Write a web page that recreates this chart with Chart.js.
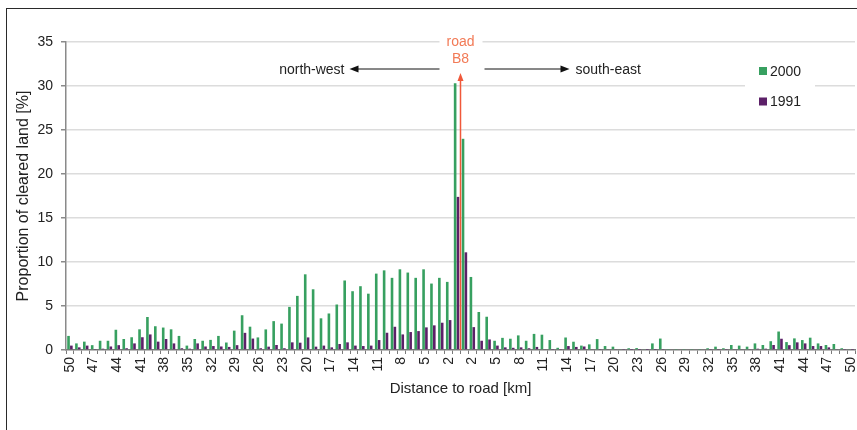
<!DOCTYPE html>
<html><head><meta charset="utf-8">
<script src="https://cdn.jsdelivr.net/npm/chart.js@4.4.0/dist/chart.umd.min.js"></script>
<style>
html,body{margin:0;padding:0;background:#fff;}
#wrap{position:relative;width:857px;height:430px;overflow:hidden;}
canvas{position:absolute;left:0;top:0;}
#frame{position:absolute;left:6px;top:8px;width:900px;height:500px;border-left:1.5px solid #2a2a2a;border-top:1.5px solid #2a2a2a;pointer-events:none;}
</style></head><body>
<div id="wrap"><canvas id="c" width="857" height="430"></canvas><div id="frame"></div></div>
<script>
// Distance categories: north-west side (50 -> 1 km), then south-east side (1 -> 50 km)
const categories = ['50','49','48','47','46','45','44','43','42','41','40','39','38','37','36','35','34','33','32','31','30','29','28','27','26','25','24','23','22','21','20','19','18','17','16','15','14','13','12','11','10','9','8','7','6','5','4','3','2','1',
  '1','2','3','4','5','6','7','8','9','10','11','12','13','14','15','16','17','18','19','20','21','22','23','24','25','26','27','28','29','30','31','32','33','34','35','36','37','38','39','40','41','42','43','44','45','46','47','48','49','50'];

const cleared2000 = [1.6,0.75,0.95,0.55,1.05,1.05,2.3,1.25,1.45,2.35,
  3.75,2.7,2.55,2.35,1.6,0.5,1.25,1.05,1.15,1.6,
  0.85,2.2,3.95,2.65,1.43,2.34,3.28,3.0,4.9,6.15,
  8.6,6.9,3.6,4.15,5.17,7.9,6.68,7.25,6.4,8.68,
  9.05,8.2,9.17,8.8,8.2,9.17,7.55,8.2,7.74,30.3,
  24.0,8.3,4.32,3.78,1.05,1.38,1.28,1.66,1.05,1.83,
  1.74,1.13,0.25,1.42,0.94,0.5,0.64,1.24,0.45,0.38,
  0.1,0.2,0.22,0.1,0.75,1.3,0.05,0.05,0.05,0.05,
  0.05,0.2,0.38,0.2,0.57,0.5,0.38,0.75,0.57,1.0,
  2.1,0.9,1.32,1.13,1.4,0.75,0.57,0.68,0.2,0.1];

const cleared1991 = [0.5,0.3,0.5,0.05,0.15,0.4,0.55,0.2,0.75,1.45,
  1.77,0.95,1.25,0.75,0.2,0.15,0.75,0.4,0.45,0.4,
  0.35,0.55,1.95,1.3,0.2,0.38,0.57,0.2,0.87,0.83,
  1.43,0.38,0.5,0.3,0.68,0.87,0.5,0.45,0.5,1.13,
  1.96,2.64,1.77,2.04,2.15,2.57,2.8,3.1,3.4,17.4,
  11.1,2.6,1.05,1.2,0.5,0.3,0.25,0.3,0.2,0.35,
  0.1,0.05,0.05,0.45,0.35,0.4,0.1,0.05,0.1,0.1,
  0.05,0.03,0.03,0.03,0.03,0.05,0,0,0,0,
  0,0.05,0.05,0.05,0.1,0.1,0.1,0.15,0.15,0.57,
  1.28,0.55,0.87,0.75,0.45,0.45,0.3,0.1,0.05,0.03];

const seriesNames = ['2000','1991'];
const yMax = 35, yStep = 5;
const roadLabel = ['road','B8'];
const directionLabels = ['north-west','south-east'];

const GREEN = '#37a060', PURPLE = '#5c2068', ROAD = '#f0583a', ROADTXT = '#f27a56';
const FONT = '"Liberation Sans", Arial, sans-serif';

const annot = {
  id: 'annot',
  afterDatasetsDraw(chart) {
    const {ctx, scales: {x, y}} = chart;
    const xm = (x.getPixelForValue(49) + x.getPixelForValue(50)) / 2;
    const top = y.getPixelForValue(yMax);
    const y0 = y.getPixelForValue(0);
    ctx.save();
    // white box behind road label
    ctx.fillStyle = '#fff';
    ctx.fillRect(xm - 21, top - 9, 43, 33);
    // red arrow from baseline
    const tip = top + 31;
    ctx.strokeStyle = ROAD; ctx.lineWidth = 1.5;
    ctx.beginPath(); ctx.moveTo(xm, y0); ctx.lineTo(xm, tip + 6); ctx.stroke();
    ctx.fillStyle = ROAD;
    ctx.beginPath(); ctx.moveTo(xm, tip); ctx.lineTo(xm - 3, tip + 8); ctx.lineTo(xm + 3, tip + 8); ctx.closePath(); ctx.fill();
    // road text
    ctx.font = '14px ' + FONT;
    ctx.textAlign = 'center'; ctx.textBaseline = 'middle';
    ctx.fillStyle = ROADTXT;
    ctx.fillText(roadLabel[0], xm, top + 0.5);
    ctx.fillText(roadLabel[1], xm, top + 17);
    // direction arrows
    const ya = top + 27;
    ctx.strokeStyle = '#111'; ctx.fillStyle = '#111'; ctx.lineWidth = 1;
    ctx.beginPath(); ctx.moveTo(xm - 21, ya); ctx.lineTo(xm - 104, ya); ctx.stroke();
    ctx.beginPath(); ctx.moveTo(xm - 111, ya); ctx.lineTo(xm - 102, ya - 3.5); ctx.lineTo(xm - 102, ya + 3.5); ctx.closePath(); ctx.fill();
    ctx.beginPath(); ctx.moveTo(xm + 24, ya); ctx.lineTo(xm + 102, ya); ctx.stroke();
    ctx.beginPath(); ctx.moveTo(xm + 109, ya); ctx.lineTo(xm + 100, ya - 3.5); ctx.lineTo(xm + 100, ya + 3.5); ctx.closePath(); ctx.fill();
    ctx.fillStyle = '#222';
    ctx.textAlign = 'right';
    ctx.fillText(directionLabels[0], xm - 116, ya + 1);
    ctx.textAlign = 'left';
    ctx.fillText(directionLabels[1], xm + 115, ya + 1);
    // legend
    ctx.fillStyle = '#fff';
    ctx.fillRect(745, 52, 70, 66);
    chart.data.datasets.forEach((ds, i) => {
      const cy = 71 + i * 30.5;
      ctx.fillStyle = ds.backgroundColor;
      ctx.fillRect(759, cy - 4, 8, 8);
      ctx.fillStyle = '#222';
      ctx.textAlign = 'left';
      ctx.fillText(ds.label, 770, cy + 1);
    });
    ctx.restore();
  }
};

new Chart(document.getElementById('c'), {
  type: 'bar',
  data: {
    labels: categories,
    datasets: [
      {label: seriesNames[0], data: cleared2000, backgroundColor: GREEN, barPercentage: 0.92, categoryPercentage: 0.72},
      {label: seriesNames[1], data: cleared1991, backgroundColor: PURPLE, barPercentage: 0.92, categoryPercentage: 0.72}
    ]
  },
  options: {
    responsive: false,
    animation: false,
    devicePixelRatio: 1,
    layout: {padding: {left: 10, right: 2, top: 42, bottom: 28}},
    plugins: {legend: {display: false}, tooltip: {enabled: false}},
    scales: {
      x: {
        grid: {display: true, drawOnChartArea: false, drawTicks: true, tickLength: 4, tickColor: '#7a7a7a', offset: true},
        border: {display: true, color: '#7a7a7a', width: 1.5},
        ticks: {
          autoSkip: false, maxRotation: 90, minRotation: 90, padding: 3,
          color: '#222', font: {family: FONT, size: 14},
          callback: (v, i) => (i % 3 === 0 ? categories[i] : '')
        },
        title: {display: true, text: 'Distance to road [km]', color: '#222', font: {family: FONT, size: 15}, padding: {top: 4, bottom: 4}},
        afterFit(s) { s.height = 52; s.paddingLeft = 0; s.paddingRight = 0; }
      },
      y: {
        min: 0, max: yMax,
        ticks: {stepSize: yStep, padding: 8, color: '#222', font: {family: FONT, size: 14}},
        grid: {color: (c) => (c.tick && c.tick.value === 0 ? 'rgba(0,0,0,0)' : '#dcdcdc'), lineWidth: 1.5, drawTicks: true, tickLength: 5, tickColor: '#8a8a8a'},
        border: {display: true, color: '#8a8a8a', width: 1.5},
        title: {display: true, text: 'Proportion of cleared land [%]', color: '#222', font: {family: FONT, size: 16}, padding: {top: 4, bottom: 4}},
        afterFit(s) { s.width = 56; }
      }
    }
  },
  plugins: [annot]
});
</script>
</body></html>
